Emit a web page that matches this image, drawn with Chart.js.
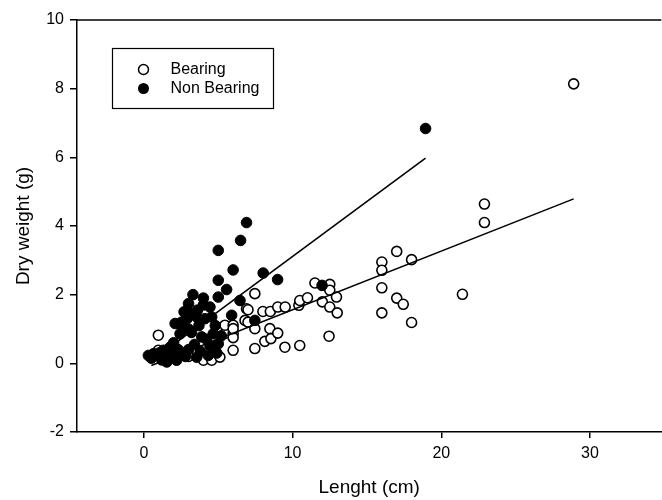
<!DOCTYPE html>
<html>
<head>
<meta charset="utf-8">
<title>Dry weight vs length</title>
<script src="https://cdn.jsdelivr.net/npm/chart.js@4/dist/chart.umd.min.js"></script>
<style>
html,body{margin:0;padding:0;background:#fff;overflow:hidden;}
#wrap{width:662px;height:500px;overflow:hidden;}
</style>
</head>
<body>
<div id="wrap"><canvas id="chart" width="668" height="500"></canvas></div>
<script>
//======================================
// Data
//======================================

const xTicks=[0,10,20,30];
const yTicks=[-2,0,2,4,6,8,10];

const bearingX=[0.97,0.97,1.5,3.0,4.0,4.56,5.11,5.45,5.45,6.0,6.0,6.0,6.0,6.0,6.8,6.9,7.0,7.0,7.46,7.46,7.46,8.0,8.13,8.47,8.5,8.54,9.0,9.0,9.48,9.5,10.42,10.48,10.48,11.0,11.5,12.0,12.45,12.5,12.5,12.5,12.95,13.0,16.0,16.0,16.0,16.0,17.0,17.0,17.44,18.0,18.0,21.42,22.9,22.9,28.9];
const bearingY=[0.82,0.38,0.10,0.20,0.09,0.09,0.18,0.87,1.11,1.11,0.87,0.38,0.75,1.01,1.25,1.59,1.20,1.56,1.01,0.43,2.03,1.51,0.64,1.01,1.51,0.72,0.88,1.64,0.47,1.64,1.69,1.83,0.52,1.91,2.34,1.79,0.79,2.30,2.13,1.64,1.93,1.47,2.95,2.71,2.20,1.47,3.26,1.90,1.72,3.02,1.19,2.01,4.64,4.10,8.14];

const nonBearingX=[0.3,0.5,0.64,1.0,1.2,1.31,1.54,1.76,1.8,2.0,2.1,2.2,2.3,2.43,2.54,2.6,2.65,2.7,2.8,2.9,3.0,3.0,3.0,3.1,3.2,3.3,3.4,3.55,3.55,3.6,3.7,3.8,3.89,4.0,4.0,4.1,4.2,4.33,4.44,4.44,4.56,4.66,4.8,4.9,5.0,5.0,5.0,5.0,5.2,5.56,5.9,6.0,6.46,6.5,6.9,7.46,8.02,8.99,11.98,18.94];
const nonBearingY=[0.23,0.15,0.28,0.30,0.10,0.38,0.04,0.47,0.20,0.60,1.16,0.09,0.40,0.86,1.20,1.00,0.28,1.50,0.20,1.30,0.40,1.00,1.74,1.45,0.90,2.00,0.55,0.18,1.35,1.55,1.10,0.35,0.77,1.70,1.90,1.30,0.70,0.23,0.52,1.64,1.35,0.86,1.10,0.30,0.57,1.93,2.42,3.29,0.80,2.15,1.40,2.72,1.83,3.58,4.10,1.25,2.63,2.44,2.27,6.84];

// fitted lines: start and end points
const fitBearingX=[0.5,28.9];
const fitBearingY=[-0.06,4.79];
const fitNonBearingX=[0.5,18.94];
const fitNonBearingY=[0.07,5.98];

const FONT="'Liberation Sans', Arial, sans-serif";

function toPoints(xs,ys){
    return xs.map((x,i)=>({x:x,y:ys[i]}));
}

//======================================
// Top frame line + legend box
//======================================

const framePlugin={
    id:"frame",
    afterDraw(chart){
        const ctx=chart.ctx;
        const a=chart.chartArea;
        ctx.save();
        ctx.strokeStyle="#000";
        ctx.lineWidth=1.5;
        ctx.beginPath();
        ctx.moveTo(a.left,a.top);
        ctx.lineTo(a.right,a.top);
        ctx.stroke();

        // legend
        const bx=a.left+35.5, by=a.top+28.5;
        ctx.lineWidth=1.2;
        ctx.strokeRect(bx,by,161,60);

        ctx.lineWidth=1.5;
        ctx.fillStyle="#fff";
        ctx.beginPath();
        ctx.arc(bx+31,by+21,5,0,Math.PI*2);
        ctx.fill();
        ctx.stroke();

        ctx.fillStyle="#000";
        ctx.beginPath();
        ctx.arc(bx+31,by+40,5.5,0,Math.PI*2);
        ctx.fill();

        ctx.font="16px "+FONT;
        ctx.textBaseline="middle";
        ctx.textAlign="left";
        ctx.fillText("Bearing",bx+58,by+21);
        ctx.fillText("Non Bearing",bx+58,by+40);
        ctx.restore();
    }
};

//======================================
// Chart
//======================================

new Chart(document.getElementById("chart"),{

    type:"scatter",

    data:{
        datasets:[
            {
                type:"line",
                label:"Fit Bearing",
                data:toPoints(fitBearingX,fitBearingY),
                borderColor:"#000",
                borderWidth:1.6,
                pointRadius:0,
                fill:false,
                order:0
            },
            {
                type:"line",
                label:"Fit Non Bearing",
                data:toPoints(fitNonBearingX,fitNonBearingY),
                borderColor:"#000",
                borderWidth:1.6,
                pointRadius:0,
                fill:false,
                order:0
            },
            {
                label:"Bearing",
                data:toPoints(bearingX,bearingY),
                backgroundColor:"#fff",
                borderColor:"#000",
                borderWidth:1.6,
                pointRadius:5,
                order:2
            },
            {
                label:"Non Bearing",
                data:toPoints(nonBearingX,nonBearingY),
                backgroundColor:"#000",
                borderColor:"#000",
                borderWidth:1,
                pointRadius:5.3,
                order:1
            }
        ]
    },

    options:{
        responsive:false,
        animation:false,
        layout:{padding:{left:0,right:0,top:20,bottom:0}},
        plugins:{
            legend:{display:false},
            tooltip:{enabled:false}
        },
        scales:{
            x:{
                type:"linear",
                min:-4.5,
                max:34.8,
                afterBuildTicks:s=>{s.ticks=xTicks.map(v=>({value:v}));},
                afterFit:s=>{s.height=68;},
                grid:{drawOnChartArea:false,color:"#000",lineWidth:1.5,tickLength:6},
                border:{color:"#000",width:1.5},
                ticks:{color:"#000",font:{size:16,family:FONT},padding:6,maxRotation:0},
                title:{display:true,text:"Lenght (cm)",color:"#000",font:{size:19,family:FONT},padding:{top:0,bottom:1}}
            },
            y:{
                type:"linear",
                min:-2,
                max:10,
                afterBuildTicks:s=>{s.ticks=yTicks.map(v=>({value:v}));},
                afterFit:s=>{s.width=77;},
                grid:{drawOnChartArea:false,color:"#000",lineWidth:1.5,tickLength:7},
                border:{color:"#000",width:1.5},
                ticks:{color:"#000",font:{size:16,family:FONT},padding:6},
                title:{display:true,text:"Dry weight (g)",color:"#000",font:{size:19,family:FONT},padding:{top:12,bottom:0}}
            }
        }
    },

    plugins:[framePlugin]

});
</script>
</body>
</html>
